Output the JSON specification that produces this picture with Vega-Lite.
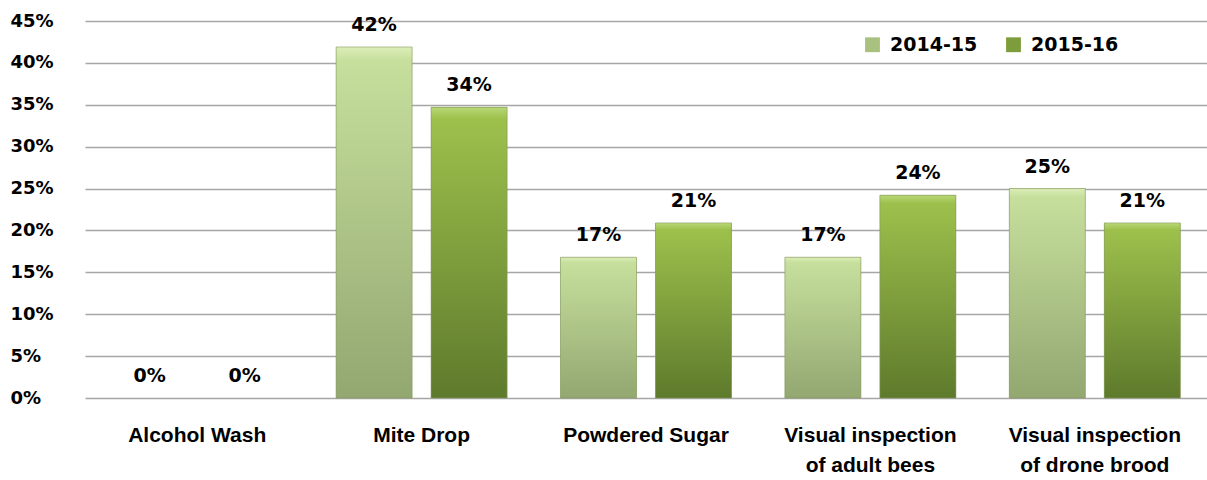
{
  "$schema": "https://vega.github.io/schema/vega-lite/v6.json",
  "width": 1122,
  "height": 377,
  "autosize": {"type": "none"},
  "padding": {"left": 85, "top": 21, "right": 0, "bottom": 82},
  "background": "white",
  "config": {"view": {"stroke": null}},
  "data": {
    "values": [
      {"method": "Alcohol Wash", "year": "2014-15", "value": 0, "label": "0%"},
      {"method": "Alcohol Wash", "year": "2015-16", "value": 0, "label": "0%"},
      {"method": "Mite Drop", "year": "2014-15", "value": 0.419, "label": "42%"},
      {"method": "Mite Drop", "year": "2015-16", "value": 0.347, "label": "34%"},
      {"method": "Powdered Sugar", "year": "2014-15", "value": 0.168, "label": "17%"},
      {"method": "Powdered Sugar", "year": "2015-16", "value": 0.209, "label": "21%"},
      {"method": "Visual inspection of adult bees", "year": "2014-15", "value": 0.168, "label": "17%"},
      {"method": "Visual inspection of adult bees", "year": "2015-16", "value": 0.242, "label": "24%"},
      {"method": "Visual inspection of drone brood", "year": "2014-15", "value": 0.25, "label": "25%"},
      {"method": "Visual inspection of drone brood", "year": "2015-16", "value": 0.209, "label": "21%"}
    ]
  },
  "encoding": {
    "x": {
      "field": "method",
      "type": "nominal",
      "sort": ["Alcohol Wash", "Mite Drop", "Powdered Sugar", "Visual inspection of adult bees", "Visual inspection of drone brood"],
      "scale": {"paddingInner": 0.238, "paddingOuter": 0.119},
      "axis": {
        "title": null,
        "domain": false,
        "ticks": false,
        "labelAngle": 0,
        "labelPadding": 26,
        "labelFont": "Liberation Sans",
        "labelFontWeight": "bold",
        "labelFontSize": 21,
        "labelColor": "#000000",
        "labelLineHeight": 30,
        "labelLimit": 0,
        "labelOverlap": false,
        "labelExpr": "datum.value === 'Visual inspection of adult bees' ? ['Visual inspection', 'of adult bees'] : datum.value === 'Visual inspection of drone brood' ? ['Visual inspection', 'of drone brood'] : datum.label"
      }
    },
    "xOffset": {
      "field": "year",
      "type": "nominal",
      "scale": {"paddingInner": 0.2, "paddingOuter": 0}
    },
    "y": {
      "field": "value",
      "type": "quantitative",
      "scale": {"domain": [0, 0.45], "nice": false},
      "axis": {
        "title": null,
        "values": [0, 0.05, 0.1, 0.15, 0.2, 0.25, 0.3, 0.35, 0.4, 0.45],
        "format": ".0%",
        "grid": true,
        "gridColor": "#a6a6a6",
        "gridWidth": 1.5,
        "domain": false,
        "ticks": false,
        "labelAlign": "left",
        "labelBaseline": "middle",
        "labelPadding": 75,
        "labelFont": "DejaVu Sans",
        "labelFontWeight": "bold",
        "labelFontSize": 18,
        "labelColor": "#000000"
      }
    }
  },
  "layer": [
    {
      "mark": {"type": "bar"},
      "encoding": {
        "color": {
          "field": "year",
          "type": "nominal",
          "scale": {"domain": ["2014-15", "2015-16"], "range": ["#a9c17f", "#7d9c3c"]},
          "legend": {
            "title": null,
            "orient": "none",
            "legendX": 778,
            "legendY": 14,
            "direction": "horizontal",
            "symbolType": "square",
            "symbolSize": 220,
            "symbolStrokeWidth": 0,
            "symbolOpacity": 1,
            "labelFont": "DejaVu Sans",
            "labelFontWeight": "bold",
            "labelFontSize": 19,
            "labelColor": "#000000",
            "labelOffset": 8,
            "columnPadding": 26
          }
        }
      }
    },
    {
      "mark": {"type": "bar", "stroke": "#86995f", "strokeWidth": 0.6},
      "encoding": {
        "strokeOpacity": {"condition": {"test": "datum.value === 0", "value": 0}, "value": 1},
        "fill": {
          "condition": {
            "test": "datum.year === '2014-15'",
            "value": {
              "gradient": "linear", "x1": 0, "y1": 0, "x2": 0, "y2": 1,
              "stops": [
                {"offset": 0, "color": "#dcedb8"},
                {"offset": 0.04, "color": "#c6df9c"},
                {"offset": 1, "color": "#93a771"}
              ]
            }
          },
          "value": {
            "gradient": "linear", "x1": 0, "y1": 0, "x2": 0, "y2": 1,
            "stops": [
              {"offset": 0, "color": "#b8d876"},
              {"offset": 0.04, "color": "#9dc04c"},
              {"offset": 1, "color": "#5e7a2c"}
            ]
          }
        }
      }
    },
    {
      "mark": {
        "type": "text",
        "dy": -16,
        "baseline": "alphabetic",
        "font": "DejaVu Sans",
        "fontWeight": "bold",
        "fontSize": 19,
        "color": "#000000"
      },
      "encoding": {"text": {"field": "label"}}
    }
  ]
}
